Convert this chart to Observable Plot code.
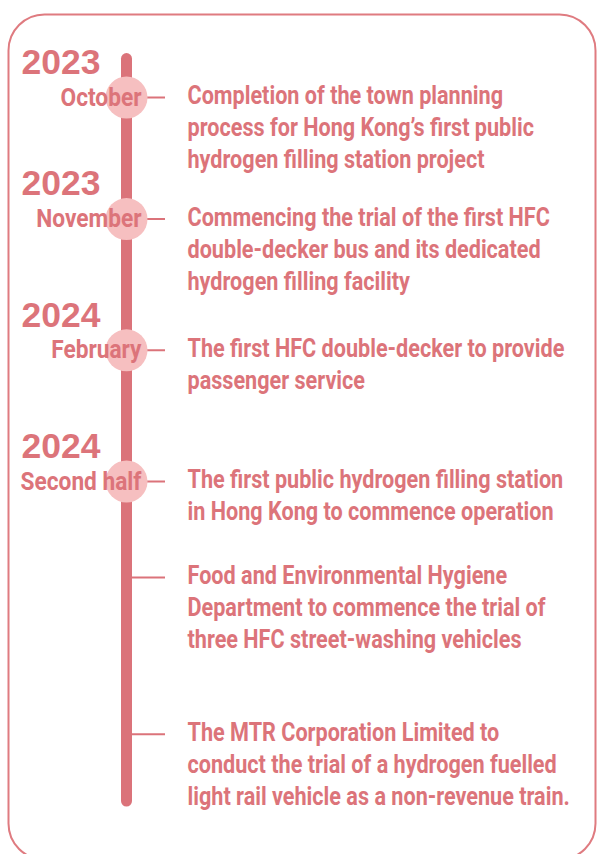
<!DOCTYPE html>
<html>
<head>
<meta charset="utf-8">
<script src="https://cdn.jsdelivr.net/npm/d3@7"></script>
<script src="https://cdn.jsdelivr.net/npm/@observablehq/plot@0.6"></script>
<style>
  html, body { margin: 0; padding: 0; background: #fff; }
  #chart svg { display: block; overflow: hidden; }
</style>
</head>
<body>
<div id="chart"></div>
<script>
// ---- data ----
const years = ["2023", "2023", "2024", "2024", null, null];
const months = ["October", "November", "February", "Second half", null, null];
// position of each milestone along the timeline (in text-line units)
const slots = [0, 3.8, 7.9, 12, 15, 19.9];
const descriptions = [
  "Completion of the town planning\nprocess for Hong Kong’s first public\nhydrogen filling station project",
  "Commencing the trial of the first HFC\ndouble-decker bus and its dedicated\nhydrogen filling facility",
  "The first HFC double-decker to provide\npassenger service",
  "The first public hydrogen filling station\nin Hong Kong to commence operation",
  "Food and Environmental Hygiene\nDepartment to commence the trial of\nthree HFC street-washing vehicles",
  "The MTR Corporation Limited to\nconduct the trial of a hydrogen fuelled\nlight rail vehicle as a non-revenue train."
];
const timelineStart = -1.2;
const timelineEnd = 22;

const events = slots.map((s, i) => ({slot: s, year: years[i], month: months[i], text: descriptions[i]}));
const dated = events.filter(d => d.month);

// ---- styles ----
const LINE = "#db737a";
const TEXT = "#dc747a";
const DOT = "#f6bfc0";
const BOX = "#df7b80";
const CONDENSED = "Roboto, 'DejaVu Sans Condensed', sans-serif";

const W = 597, H = 854, ROW = 32, Y0 = 97, X0 = 126;
const DESC_FS = 25, MONTH_FS = 25.5;

const chart = Plot.plot({
  width: W,
  height: H,
  margin: 0,
  x: {domain: [-X0, W - X0], range: [0, W], axis: null},
  y: {domain: [-Y0 / ROW, (H - Y0) / ROW], range: [0, H], axis: null},
  marks: [
    Plot.frame({stroke: BOX, strokeWidth: 2, rx: 36, ry: 36,
      insetLeft: 8, insetTop: 14, insetRight: 2, insetBottom: -5}),
    Plot.ruleY(events, {y: "slot", x1: 0, x2: 39, stroke: LINE, strokeWidth: 2}),
    Plot.ruleX([0], {y1: timelineStart, y2: timelineEnd, stroke: LINE, strokeWidth: 11, strokeLinecap: "round"}),
    Plot.dot(dated, {x: 0, y: "slot", r: 21, fill: DOT, stroke: null}),
    Plot.text(dated, {x: 0, y: "slot", text: "year", textAnchor: "start", dx: -105, dy: -35,
      fill: TEXT, fontSize: 35.5, fontWeight: "bold", fontFamily: "'Liberation Sans', Arial, sans-serif"}),
    Plot.text(dated, {x: 0, y: "slot", text: "month", textAnchor: "end", dx: 15, dy: 0,
      fill: TEXT, fontSize: MONTH_FS, fontWeight: "bold", fontFamily: CONDENSED}),
    Plot.text(events, {x: 0, y: "slot", text: "text", textAnchor: "start", lineAnchor: "top",
      dx: 61, dy: -16, lineHeight: ROW / DESC_FS,
      fill: TEXT, fontSize: DESC_FS, fontWeight: "bold", fontFamily: CONDENSED})
  ]
});
document.getElementById("chart").appendChild(chart);

// horizontally condense the Roboto texts (no condensed face installed)
const groups = chart.querySelectorAll('g[aria-label="text"]');
const squeeze = [null, 0.89, 0.865];
groups.forEach((g, gi) => {
  if (!squeeze[gi]) return;
  g.querySelectorAll("text").forEach(t => {
    const tr = t.getAttribute("transform") || "";
    t.setAttribute("transform", tr + ` scale(${squeeze[gi]},1)`);
  });
});
</script>
</body>
</html>
